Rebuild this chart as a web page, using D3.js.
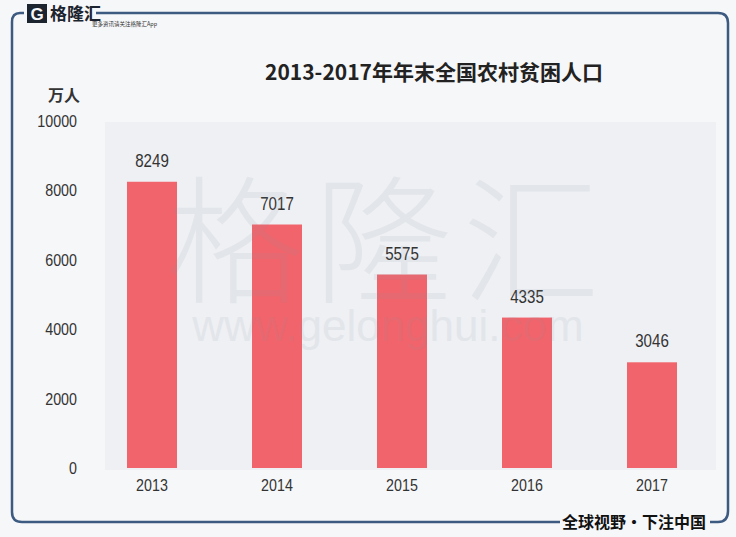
<!DOCTYPE html>
<html>
<head>
<meta charset="utf-8">
<script src="https://cdn.jsdelivr.net/npm/d3@7"></script>
<style>
  html, body { margin: 0; padding: 0; background: #f6f7f9; }
  svg { display: block; }
</style>
</head>
<body>
<svg id="chart" width="736" height="537"></svg>
<script>
// chart data
const years = ['2013', '2014', '2015', '2016', '2017'];
const population = [8249, 7017, 5575, 4335, 3046];
const yTicks = [0, 2000, 4000, 6000, 8000, 10000];

const title = '2013-2017年年末全国农村贫困人口';
const unitLabel = '万人';

const svg = d3.select('#chart');
const W = 736, H = 537;
const frameColor = '#3d5a80';
const numFont = "'Liberation Sans', sans-serif";
const cjk = "'Noto Sans CJK SC', 'Noto Sans', sans-serif";
const squeeze = 0.84; // digits in the original are a narrow face

svg.append('rect').attr('width', W).attr('height', H).attr('fill', '#f6f7f9');

// plot panel
const plot = { left: 105, right: 716, top: 122, bottom: 470 };
svg.append('rect')
    .attr('x', plot.left).attr('y', plot.top)
    .attr('width', plot.right - plot.left).attr('height', plot.bottom - plot.top)
    .attr('fill', '#eef0f4');

const x = d3.scaleBand()
    .domain(years)
    .range([89.5, 714.5])
    .paddingInner(0.6)
    .paddingOuter(0.3);

const y = d3.scaleLinear()
    .domain([0, 10000])
    .range([468, 121]);

// y axis labels (no line)
const yAxis = d3.axisLeft(y).tickValues(yTicks).tickSize(0).tickPadding(0).tickFormat(d3.format('d'));
const yg = svg.append('g').attr('transform', 'translate(77,0)').call(yAxis);
yg.select('.domain').remove();
yg.selectAll('text')
    .attr('font-family', numFont).attr('font-size', 17).attr('fill', '#333')
    .attr('transform', `scale(${squeeze},1)`);

svg.append('text')
    .attr('x', 64).attr('y', 101)
    .attr('text-anchor', 'middle')
    .attr('font-family', cjk).attr('font-size', 16).attr('font-weight', 'bold')
    .attr('fill', '#333')
    .text(unitLabel);

// bars
svg.append('g').selectAll('rect')
    .data(years)
    .join('rect')
    .attr('x', d => x(d))
    .attr('y', (d, i) => y(population[i]))
    .attr('width', x.bandwidth())
    .attr('height', (d, i) => y(0) - y(population[i]))
    .attr('fill', '#f2646b');

// value labels
svg.append('g').selectAll('text')
    .data(years)
    .join('text')
    .attr('transform', (d, i) =>
        `translate(${x(d) + x.bandwidth() / 2},${y(population[i]) - 15}) scale(${squeeze},1)`)
    .attr('text-anchor', 'middle')
    .attr('font-family', numFont).attr('font-size', 18)
    .attr('fill', '#333')
    .text((d, i) => population[i]);

// x axis labels
const xAxis = d3.axisBottom(x).tickSize(0).tickPadding(0);
const xg = svg.append('g').attr('transform', 'translate(0,479)').call(xAxis);
xg.select('.domain').remove();
xg.selectAll('text')
    .attr('font-family', numFont).attr('font-size', 17).attr('fill', '#333')
    .attr('transform', `scale(${squeeze},1)`);

// watermark
svg.append('text')
    .attr('x', 388).attr('y', 292)
    .attr('text-anchor', 'middle')
    .attr('font-family', cjk).attr('font-size', 138).attr('font-weight', 300)
    .attr('fill', '#8a9099').attr('opacity', 0.11)
    .attr('letter-spacing', 10)
    .text('格隆汇');
svg.append('text')
    .attr('x', 388).attr('y', 341)
    .attr('text-anchor', 'middle')
    .attr('font-family', "'Liberation Sans', sans-serif").attr('font-size', 44)
    .attr('fill', '#8a9099').attr('opacity', 0.11)
    .text('www.gelonghui.com');

// title
svg.append('text')
    .attr('x', 434).attr('y', 80)
    .attr('text-anchor', 'middle')
    .attr('font-family', cjk).attr('font-size', 21).attr('font-weight', 'bold')
    .attr('fill', '#222')
    .text(title);

// frame
const frame = d3.path();
frame.moveTo(96, 13);
frame.lineTo(718, 13);
frame.quadraticCurveTo(728, 13, 728, 23);
frame.lineTo(728, 511);
frame.quadraticCurveTo(728, 522, 718, 522);
frame.lineTo(710, 522);
svg.append('path').attr('d', frame.toString())
    .attr('fill', 'none').attr('stroke', frameColor).attr('stroke-width', 2.5);

const frameLeft = d3.path();
frameLeft.moveTo(24, 13);
frameLeft.lineTo(20, 13);
frameLeft.quadraticCurveTo(12, 13, 12, 22);
frameLeft.lineTo(12, 512);
frameLeft.quadraticCurveTo(12, 522, 22, 522);
frameLeft.lineTo(560, 522);
svg.append('path').attr('d', frameLeft.toString())
    .attr('fill', 'none').attr('stroke', frameColor).attr('stroke-width', 2.5);

// logo
const logo = svg.append('g');
logo.append('rect').attr('x', 27).attr('y', 4).attr('width', 20).attr('height', 19).attr('fill', '#1c2430');
logo.append('text')
    .attr('x', 37).attr('y', 20)
    .attr('text-anchor', 'middle')
    .attr('font-family', "'Liberation Sans', sans-serif").attr('font-size', 17).attr('font-weight', 'bold')
    .attr('fill', '#f6f7f9')
    .text('G');
logo.append('text')
    .attr('x', 50).attr('y', 20)
    .attr('font-family', cjk).attr('font-size', 17).attr('font-weight', 'bold')
    .attr('fill', '#1c2430')
    .text('格隆汇');
logo.append('text')
    .attr('x', 92).attr('y', 26)
    .attr('font-family', cjk).attr('font-size', 5.5)
    .attr('fill', '#333')
    .text('更多资讯请关注格隆汇App');

// slogan
svg.append('text')
    .attr('x', 634).attr('y', 528)
    .attr('text-anchor', 'middle')
    .attr('font-family', cjk).attr('font-size', 16).attr('font-weight', 'bold')
    .attr('fill', '#111')
    .text('全球视野・下注中国');
</script>
</body>
</html>
